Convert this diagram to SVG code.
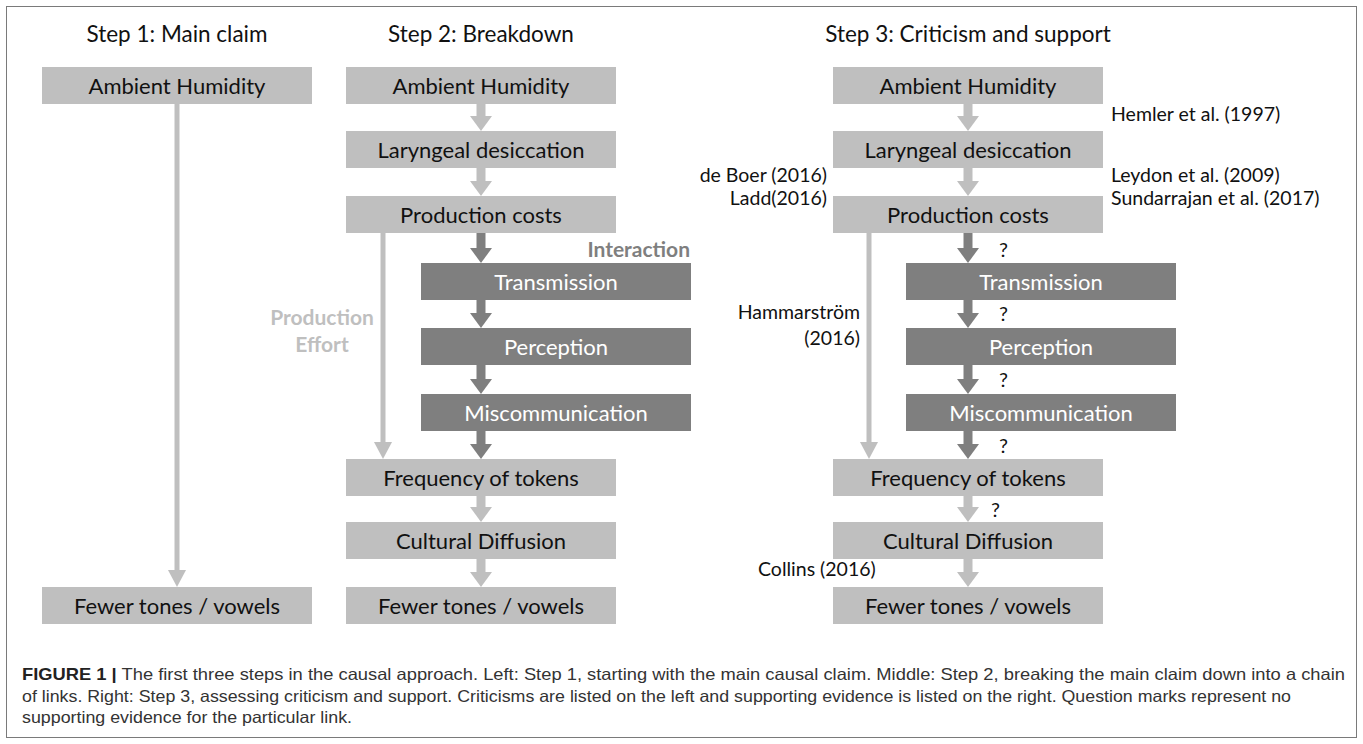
<svg xmlns="http://www.w3.org/2000/svg" width="1363" height="744" viewBox="0 0 1363 744">
<style>
.bg{fill:#ffffff}
.frame{fill:none;stroke:#7a7a7a;stroke-width:1}
.lb{fill:#bfbfbf}
.db{fill:#7f7f7f}
.t{font-family:Lato,"Liberation Sans",sans-serif;font-size:22px;text-anchor:middle;fill:#111}
.tw{font-family:Lato,"Liberation Sans",sans-serif;font-size:22px;text-anchor:middle;fill:#ffffff}
.title{font-family:Lato,"Liberation Sans",sans-serif;font-size:22.5px;text-anchor:middle;fill:#111}
.cite{font-family:Lato,"Liberation Sans",sans-serif;font-size:19.5px;fill:#111}
.q{font-family:Lato,"Liberation Sans",sans-serif;font-size:20px;fill:#111}
.lbl{font-family:Lato,"Liberation Sans",sans-serif;font-size:21px;font-weight:bold}
.al{stroke:#bfbfbf;stroke-width:9;fill:none}
.ad{stroke:#7f7f7f;stroke-width:9;fill:none}
.all{stroke:#bfbfbf;stroke-width:5;fill:none}
.cap{font-family:"Liberation Sans",Arial,sans-serif;font-size:16.5px;fill:#333}
</style>
<defs>
<marker id="hl" markerUnits="userSpaceOnUse" viewBox="0 0 15 22" markerWidth="15" markerHeight="22" refX="0" refY="11" orient="auto"><path d="M0,0 L15,11 L0,22 z" fill="#bfbfbf"/></marker>
<marker id="hd" markerUnits="userSpaceOnUse" viewBox="0 0 15 22" markerWidth="15" markerHeight="22" refX="0" refY="11" orient="auto"><path d="M0,0 L15,11 L0,22 z" fill="#7f7f7f"/></marker>
<marker id="hll" markerUnits="userSpaceOnUse" viewBox="0 0 17 18" markerWidth="17" markerHeight="18" refX="0" refY="9" orient="auto"><path d="M0,0 L17,9 L0,18 z" fill="#bfbfbf"/></marker>
</defs>
<rect class="bg" x="0" y="0" width="1363" height="744"/>
<rect class="frame" x="6.5" y="6.5" width="1350" height="731"/>

<text class="title" x="177" y="42">Step 1: Main claim</text>
<text class="title" x="481" y="42">Step 2: Breakdown</text>
<text class="title" x="968" y="42">Step 3: Criticism and support</text>

<g id="connectors">
<line class="all" x1="177" y1="104" x2="177" y2="570" marker-end="url(#hll)"/>
<line class="al" x1="481" y1="104" x2="481" y2="116" marker-end="url(#hl)"/>
<line class="al" x1="481" y1="168" x2="481" y2="181" marker-end="url(#hl)"/>
<line class="ad" x1="481" y1="233" x2="481" y2="248" marker-end="url(#hd)"/>
<line class="ad" x1="481" y1="300" x2="481" y2="313" marker-end="url(#hd)"/>
<line class="ad" x1="481" y1="365" x2="481" y2="379" marker-end="url(#hd)"/>
<line class="ad" x1="481" y1="431" x2="481" y2="444" marker-end="url(#hd)"/>
<line class="al" x1="481" y1="496" x2="481" y2="507" marker-end="url(#hl)"/>
<line class="al" x1="481" y1="559" x2="481" y2="572" marker-end="url(#hl)"/>
<line class="all" x1="383" y1="233" x2="383" y2="442" marker-end="url(#hll)"/>
<line class="al" x1="968" y1="104" x2="968" y2="116" marker-end="url(#hl)"/>
<line class="al" x1="968" y1="168" x2="968" y2="181" marker-end="url(#hl)"/>
<line class="ad" x1="968" y1="233" x2="968" y2="248" marker-end="url(#hd)"/>
<line class="ad" x1="968" y1="300" x2="968" y2="313" marker-end="url(#hd)"/>
<line class="ad" x1="968" y1="365" x2="968" y2="379" marker-end="url(#hd)"/>
<line class="ad" x1="968" y1="431" x2="968" y2="444" marker-end="url(#hd)"/>
<line class="al" x1="968" y1="496" x2="968" y2="507" marker-end="url(#hl)"/>
<line class="al" x1="968" y1="559" x2="968" y2="572" marker-end="url(#hl)"/>
<line class="all" x1="869" y1="233" x2="869" y2="442" marker-end="url(#hll)"/>
</g>

<g id="s1-ambient"><rect class="lb" x="42" y="67" width="270" height="37"/><text class="t" x="177" y="94">Ambient Humidity</text></g>
<g id="s1-fewer"><rect class="lb" x="42" y="587" width="270" height="37"/><text class="t" x="177" y="614">Fewer tones / vowels</text></g>

<g id="s2-ambient"><rect class="lb" x="346" y="67" width="270" height="37"/><text class="t" x="481" y="94">Ambient Humidity</text></g>
<g id="s2-laryngeal"><rect class="lb" x="346" y="131" width="270" height="37"/><text class="t" x="481" y="158">Laryngeal desiccation</text></g>
<g id="s2-production"><rect class="lb" x="346" y="196" width="270" height="37"/><text class="t" x="481" y="223">Production costs</text></g>
<g id="s2-transmission"><rect class="db" x="421" y="263" width="270" height="37"/><text class="tw" x="556" y="290">Transmission</text></g>
<g id="s2-perception"><rect class="db" x="421" y="328" width="270" height="37"/><text class="tw" x="556" y="355">Perception</text></g>
<g id="s2-miscommunication"><rect class="db" x="421" y="394" width="270" height="37"/><text class="tw" x="556" y="421">Miscommunication</text></g>
<g id="s2-frequency"><rect class="lb" x="346" y="459" width="270" height="37"/><text class="t" x="481" y="486">Frequency of tokens</text></g>
<g id="s2-cultural"><rect class="lb" x="346" y="522" width="270" height="37"/><text class="t" x="481" y="549">Cultural Diffusion</text></g>
<g id="s2-fewer"><rect class="lb" x="346" y="587" width="270" height="37"/><text class="t" x="481" y="614">Fewer tones / vowels</text></g>
<g id="s2-labels">
<text class="lbl" x="690" y="257" text-anchor="end" fill="#7f7f7f">Interaction</text>
<text class="lbl" x="322" y="325" text-anchor="middle" fill="#bfbfbf">Production</text>
<text class="lbl" x="322" y="352" text-anchor="middle" fill="#bfbfbf">Effort</text>
</g>

<g id="s3-ambient"><rect class="lb" x="833" y="67" width="270" height="37"/><text class="t" x="968" y="94">Ambient Humidity</text></g>
<g id="s3-laryngeal"><rect class="lb" x="833" y="131" width="270" height="37"/><text class="t" x="968" y="158">Laryngeal desiccation</text></g>
<g id="s3-production"><rect class="lb" x="833" y="196" width="270" height="37"/><text class="t" x="968" y="223">Production costs</text></g>
<g id="s3-transmission"><rect class="db" x="906" y="263" width="270" height="37"/><text class="tw" x="1041" y="290">Transmission</text></g>
<g id="s3-perception"><rect class="db" x="906" y="328" width="270" height="37"/><text class="tw" x="1041" y="355">Perception</text></g>
<g id="s3-miscommunication"><rect class="db" x="906" y="394" width="270" height="37"/><text class="tw" x="1041" y="421">Miscommunication</text></g>
<g id="s3-frequency"><rect class="lb" x="833" y="459" width="270" height="37"/><text class="t" x="968" y="486">Frequency of tokens</text></g>
<g id="s3-cultural"><rect class="lb" x="833" y="522" width="270" height="37"/><text class="t" x="968" y="549">Cultural Diffusion</text></g>
<g id="s3-fewer"><rect class="lb" x="833" y="587" width="270" height="37"/><text class="t" x="968" y="614">Fewer tones / vowels</text></g>

<g id="s3-citations">
<text class="cite" x="1111" y="121">Hemler et al. (1997)</text>
<text class="cite" x="1111" y="182">Leydon et al. (2009)</text>
<text class="cite" x="1111" y="205">Sundarrajan et al. (2017)</text>
<text class="cite" x="827" y="182" text-anchor="end">de Boer (2016)</text>
<text class="cite" x="827" y="205" text-anchor="end">Ladd(2016)</text>
<text class="cite" x="860" y="319" text-anchor="end">Hammarström</text>
<text class="cite" x="860" y="345" text-anchor="end">(2016)</text>
<text class="cite" x="758" y="576">Collins (2016)</text>
</g>
<g id="s3-questions">
<text class="q" x="999" y="257">?</text>
<text class="q" x="999" y="321">?</text>
<text class="q" x="999" y="387">?</text>
<text class="q" x="999" y="453">?</text>
<text class="q" x="991" y="517">?</text>
</g>

<g id="caption">
<text class="cap" x="22" y="680" textLength="1323" lengthAdjust="spacingAndGlyphs"><tspan font-weight="bold" fill="#222">FIGURE 1 |</tspan> The first three steps in the causal approach. Left: Step 1, starting with the main causal claim. Middle: Step 2, breaking the main claim down into a chain</text>
<text class="cap" x="22" y="702" textLength="1269" lengthAdjust="spacingAndGlyphs">of links. Right: Step 3, assessing criticism and support. Criticisms are listed on the left and supporting evidence is listed on the right. Question marks represent no</text>
<text class="cap" x="22" y="723" textLength="330" lengthAdjust="spacingAndGlyphs">supporting evidence for the particular link.</text>
</g>
</svg>
